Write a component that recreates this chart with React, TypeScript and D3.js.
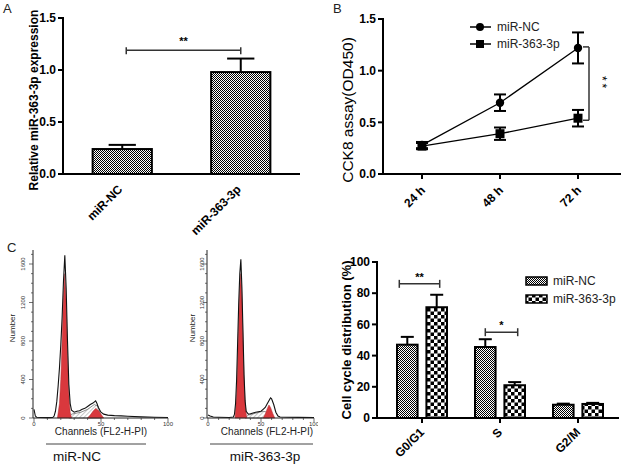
import React from 'react';
import * as d3 from 'd3';

const FONT = 'Liberation Sans, Arial, Helvetica, sans-serif';

// ---------- Panel A data ----------
const aCategories = ['miR-NC', 'miR-363-3p'];
const aValues = [0.24, 0.98];
const aErrors = [0.04, 0.13];
const aTicks = [0, 0.5, 1.0, 1.5];
const aSig = { value: 1.19, label: '**' };

// ---------- Panel B data ----------
const bTimes = ['24 h', '48 h', '72 h'];
const bSeriesNames = ['miR-NC', 'miR-363-3p'];
const bNC = [0.28, 0.69, 1.22];
const bNCErr = [0.03, 0.08, 0.15];
const b363 = [0.27, 0.39, 0.54];
const b363Err = [0.03, 0.06, 0.08];
const bTicks = [0, 0.5, 1.0, 1.5];
const bSig = { top: 1.23, bottom: 0.52, label: '**' };

// ---------- Panel C data (flow histograms: [channel, count]) ----------
const cNames = ['miR-NC', 'miR-363-3p'];
const cYTicks = [0, 400, 800, 1200, 1600];
const cXTicks = [0, 50, 100];
const histNC: [number, number][] = [
  [0, 90], [1, 20], [2, 8], [5, 5], [10, 4], [14, 5], [15, 20], [16, 70], [17, 170], [18, 330],
  [19, 520], [20, 760], [21, 1050], [22, 1420], [23, 1690], [24, 1350], [25, 800], [26, 350],
  [27, 150], [28, 80], [30, 60], [32, 70], [34, 75], [36, 90], [38, 100], [40, 120], [42, 140],
  [44, 155], [46, 178], [47, 150], [48, 110], [50, 60], [52, 40], [55, 30], [60, 25], [65, 22],
  [70, 18], [80, 12], [90, 8], [100, 5],
];
const g1NC: [number, number][] = [
  [17.5, 0], [19, 150], [20, 400], [21, 800], [22, 1250], [23, 1500], [24, 1200], [25, 650],
  [26, 250], [27, 60], [28, 0],
];
const sNC: [number, number][] = [[26, 0], [28, 40], [35, 60], [40, 90], [45, 140], [48, 120], [50, 0]];
const g2NC: [number, number][] = [[40, 0], [42, 30], [44, 70], [46, 100], [48, 80], [50, 40], [52, 0]];

const hist363: [number, number][] = [
  [0, 30], [2, 20], [5, 10], [10, 8], [20, 5], [24, 10], [25, 40], [26, 150], [27, 400],
  [28, 800], [29, 1200], [30, 1500], [31, 1650], [32, 1350], [33, 900], [34, 450], [35, 180],
  [36, 70], [38, 40], [40, 45], [45, 60], [50, 70], [52, 90], [54, 110], [56, 150], [58, 190],
  [59, 210], [60, 200], [62, 140], [64, 60], [66, 20], [68, 10], [75, 8], [85, 6], [100, 5],
];
const g1363: [number, number][] = [
  [25.5, 0], [27, 250], [28, 600], [29, 1000], [30, 1350], [31, 1500], [32, 1250], [33, 800],
  [34, 400], [35, 150], [36.5, 0],
];
const s363: [number, number][] = [[35, 0], [38, 30], [45, 50], [52, 70], [56, 60], [58, 0]];
const g2363: [number, number][] = [[52, 0], [54, 40], [56, 100], [57.5, 135], [59, 110], [61, 50], [63, 0]];

// ---------- Panel D data ----------
const dGroups = ['G0/G1', 'S', 'G2/M'];
const dSeriesNames = ['miR-NC', 'miR-363-3p'];
const dNC = [47, 45.5, 8.5];
const dNCErr = [5, 5, 0.7];
const d363 = [71, 21, 9];
const d363Err = [8, 2, 0.7];
const dTicks = [0, 20, 40, 60, 80, 100];
const dSigs = [
  { group: 'G0/G1', value: 86, label: '**' },
  { group: 'S', value: 55, label: '*' },
];

const fmt1 = d3.format('.1f');

function PanelA() {
  const y = d3.scaleLinear().domain([0, 1.5]).range([174, 18]);
  const x = d3.scaleBand().domain(aCategories).range([63, 300]).paddingInner(0.5).paddingOuter(0.25);
  const bw = x.bandwidth();
  const cx = (c: string) => (x(c) as number) + bw / 2;
  const sy = y(aSig.value);
  const sx0 = cx(aCategories[0]) + 4;
  const sx1 = cx(aCategories[1]);
  return (
    <g>
      <text x={3} y={13} fontSize={13} fill="#222">A</text>
      {aCategories.map((c, i) => {
        const x0 = x(c) as number;
        const top = y(aValues[i] + aErrors[i]);
        const capW = bw * 0.46;
        return (
          <g key={c}>
            <line x1={cx(c)} x2={cx(c)} y1={y(aValues[i])} y2={top} stroke="#000" strokeWidth={2} />
            <line x1={cx(c) - capW / 2} x2={cx(c) + capW / 2} y1={top} y2={top} stroke="#000" strokeWidth={2} />
            <rect x={x0} y={y(aValues[i])} width={bw} height={y(0) - y(aValues[i])} fill="url(#fine)" stroke="#000" strokeWidth={2} />
          </g>
        );
      })}
      <line x1={63} x2={63} y1={y(1.5) - 1} y2={y(0) + 1} stroke="#000" strokeWidth={2} />
      <line x1={62} x2={300} y1={y(0)} y2={y(0)} stroke="#000" strokeWidth={2} />
      {aTicks.map((t) => (
        <g key={t}>
          <line x1={58} x2={63} y1={y(t)} y2={y(t)} stroke="#000" strokeWidth={2} />
          <text x={56} y={y(t)} dy="0.35em" textAnchor="end" fontSize={12} fontWeight="bold">{fmt1(t)}</text>
        </g>
      ))}
      {aCategories.map((c) => (
        <text key={c} transform={`translate(${cx(c) + 1},${y(0) + 16}) rotate(-45)`} textAnchor="end" fontSize={12} fontWeight="bold">{c}</text>
      ))}
      <text transform={`translate(38,${(y(0) + y(1.5)) / 2 + 4}) rotate(-90)`} textAnchor="middle" fontSize={12} fontWeight="bold">Relative miR-363-3p expression</text>
      <g stroke="#333" strokeWidth={1.5}>
        <line x1={sx0} x2={sx1} y1={sy} y2={sy} />
        <line x1={sx0} x2={sx0} y1={sy - 3} y2={sy + 4} />
        <line x1={sx1} x2={sx1} y1={sy - 3} y2={sy + 4} />
      </g>
      <text x={(sx0 + sx1) / 2} y={sy - 5} textAnchor="middle" fontSize={11} fontWeight="bold">{aSig.label}</text>
    </g>
  );
}

function PanelB() {
  const y = d3.scaleLinear().domain([0, 1.5]).range([174, 19]);
  const x = d3.scalePoint().domain(bTimes).range([422, 578]);
  const series = [
    { name: bSeriesNames[0], v: bNC, e: bNCErr, shape: 'circle' },
    { name: bSeriesNames[1], v: b363, e: b363Err, shape: 'square' },
  ];
  const line = d3.line<number>().x((_, i) => x(bTimes[i]) as number).y((d) => y(d));
  const sxl = 589;
  return (
    <g>
      <text x={333} y={13} fontSize={13} fill="#222">B</text>
      {series.map((s) => (
        <g key={s.name}>
          <path d={line(s.v) || ''} fill="none" stroke="#000" strokeWidth={1.3} />
          {s.v.map((v, i) => {
            const px = x(bTimes[i]) as number;
            return (
              <g key={i} stroke="#000" strokeWidth={2}>
                <line x1={px} x2={px} y1={y(v - s.e[i])} y2={y(v + s.e[i])} />
                <line x1={px - 6} x2={px + 6} y1={y(v - s.e[i])} y2={y(v - s.e[i])} />
                <line x1={px - 6} x2={px + 6} y1={y(v + s.e[i])} y2={y(v + s.e[i])} />
                {s.shape === 'circle' ? (
                  <circle cx={px} cy={y(v)} r={4.2} fill="#000" stroke="none" />
                ) : (
                  <rect x={px - 4.5} y={y(v) - 4.5} width={9} height={9} fill="#000" stroke="none" />
                )}
              </g>
            );
          })}
        </g>
      ))}
      <line x1={383} x2={383} y1={y(1.5) - 1} y2={y(0) + 1} stroke="#000" strokeWidth={2} />
      <line x1={382} x2={621} y1={y(0)} y2={y(0)} stroke="#000" strokeWidth={2} />
      {bTicks.map((t) => (
        <g key={t}>
          <line x1={378} x2={383} y1={y(t)} y2={y(t)} stroke="#000" strokeWidth={2} />
          <text x={376} y={y(t)} dy="0.35em" textAnchor="end" fontSize={12} fontWeight="bold">{fmt1(t)}</text>
        </g>
      ))}
      {bTimes.map((t) => (
        <g key={t}>
          <line x1={x(t)} x2={x(t)} y1={y(0)} y2={y(0) + 5} stroke="#000" strokeWidth={2} />
          <text transform={`translate(${(x(t) as number) + 4},${y(0) + 17}) rotate(-45)`} textAnchor="end" fontSize={12} fontWeight="bold">{t}</text>
        </g>
      ))}
      <text transform={`translate(353,110) rotate(-90)`} textAnchor="middle" fontSize={15.5}>CCK8 assay(OD450)</text>
      {series.map((s, i) => {
        const ly = 27 + i * 17;
        return (
          <g key={s.name}>
            <line x1={470} x2={491} y1={ly} y2={ly} stroke="#000" strokeWidth={1.5} />
            {s.shape === 'circle' ? (
              <circle cx={480} cy={ly} r={4} fill="#000" />
            ) : (
              <rect x={476} y={ly - 4} width={8} height={8} fill="#000" />
            )}
            <text x={497} y={ly} dy="0.35em" fontSize={12} fill="#222">{s.name}</text>
          </g>
        );
      })}
      <g stroke="#333" strokeWidth={1.5}>
        <line x1={sxl} x2={sxl} y1={y(bSig.top)} y2={y(bSig.bottom)} />
        <line x1={sxl - 6} x2={sxl} y1={y(bSig.top)} y2={y(bSig.top)} />
        <line x1={sxl - 6} x2={sxl} y1={y(bSig.bottom)} y2={y(bSig.bottom)} />
      </g>
      <text transform={`translate(598,${(y(bSig.top) + y(bSig.bottom)) / 2}) rotate(90)`} textAnchor="middle" fontSize={12} letterSpacing={3}>{bSig.label}</text>
    </g>
  );
}

type HistProps = {
  axisX: number;
  x0px: number;
  pxPerCh: number;
  clipRight: number;
  outline: [number, number][];
  g1: [number, number][];
  s: [number, number][];
  g2: [number, number][];
  labelGap: number;
  numberX: number;
  name: string;
  chX: number;
  nameX: number;
  lineX0: number;
  lineX1: number;
  id: string;
};

function Histogram(p: HistProps) {
  const y = d3.scaleLinear().domain([0, 1600]).range([418, 264]);
  const x = d3.scaleLinear().domain([0, 100]).range([p.x0px, p.x0px + 100 * p.pxPerCh]);
  const area = d3.area<[number, number]>().x((d) => x(d[0])).y0(y(0)).y1((d) => y(d[1]));
  const line = d3.line<[number, number]>().x((d) => x(d[0])).y((d) => y(d[1]));
  const minorY = d3.range(0, 1800, 100);
  const minorX = d3.range(0, 101, 10).filter((v) => x(v) <= p.clipRight);
  return (
    <g>
      <clipPath id={p.id}>
        <rect x={p.axisX - 30} y={240} width={p.clipRight - p.axisX + 30} height={200} />
      </clipPath>
      <g clipPath={`url(#${p.id})`}>
        <path d={area(p.s) || ''} fill="url(#hatch)" stroke="#444" strokeWidth={0.6} />
        <path d={area(p.g1) || ''} fill="#d9383d" stroke="#b02a2e" strokeWidth={0.5} />
        <path d={area(p.g2) || ''} fill="#d9383d" stroke="#b02a2e" strokeWidth={0.5} />
        <path d={line(p.outline) || ''} fill="none" stroke="#111" strokeWidth={1.1} />
        <line x1={p.axisX} x2={p.axisX} y1={250} y2={418} stroke="#222" strokeWidth={1} />
        <line x1={p.axisX} x2={Math.min(x(100), p.clipRight)} y1={418} y2={418} stroke="#222" strokeWidth={1} />
        {minorY.map((t) => (
          <line key={t} x1={p.axisX - (t % 400 === 0 ? 4 : 2)} x2={p.axisX} y1={y(t)} y2={y(t)} stroke="#333" strokeWidth={0.7} />
        ))}
        {minorX.map((t) => (
          <line key={t} x1={x(t)} x2={x(t)} y1={418} y2={418 + (t % 50 === 0 ? 4 : 2)} stroke="#333" strokeWidth={0.7} />
        ))}
        {cXTicks.map((t) => (
          <text key={t} x={x(t)} y={426} textAnchor="middle" fontSize={6} fill="#333">{t}</text>
        ))}
      </g>
      {cYTicks.map((t) => (
        <text key={t} transform={`translate(${p.axisX - p.labelGap},${y(t)}) rotate(-90)`} textAnchor="middle" fontSize={6} fill="#333">{t}</text>
      ))}
      <text transform={`translate(${p.numberX},328) rotate(-90)`} textAnchor="middle" fontSize={8} fill="#222">Number</text>
      <text x={p.chX} y={435} textAnchor="middle" fontSize={10} fill="#222">Channels (FL2-H-PI)</text>
      <line x1={p.lineX0} x2={p.lineX1} y1={444} y2={444} stroke="#444" strokeWidth={1} />
      <text x={p.nameX} y={461} textAnchor="middle" fontSize={13.5} fill="#111">{p.name}</text>
    </g>
  );
}

function PanelC() {
  return (
    <g>
      <text x={7} y={252} fontSize={13} fill="#222">C</text>
      <Histogram id="clipL" axisX={33} x0px={34} pxPerCh={1.34} clipRight={175} outline={histNC} g1={g1NC} s={sNC} g2={g2NC}
        labelGap={8} numberX={15} name={cNames[0]} chX={101} nameX={77} lineX0={46} lineX1={146} />
      <Histogram id="clipR" axisX={207} x0px={208} pxPerCh={1.06} clipRight={318} outline={hist363} g1={g1363} s={s363} g2={g2363}
        labelGap={3} numberX={195} name={cNames[1]} chX={267} nameX={265} lineX0={210} lineX1={313} />
    </g>
  );
}

function PanelD() {
  const y = d3.scaleLinear().domain([0, 100]).range([418, 262]);
  const xg = d3.scaleBand().domain(dGroups).range([383, 617]);
  const xs = d3.scaleBand().domain(dSeriesNames).range([-25, 25]).paddingInner(0.3);
  const bw = xs.bandwidth();
  const series = [
    { name: dSeriesNames[0], v: dNC, e: dNCErr, fill: 'url(#fine)' },
    { name: dSeriesNames[1], v: d363, e: d363Err, fill: 'url(#checker)' },
  ];
  const gc = (g: string) => (xg(g) as number) + xg.bandwidth() / 2;
  const bc = (g: string, s: string) => gc(g) + (xs(s) as number) + bw / 2;
  return (
    <g>
      {series.map((s) =>
        dGroups.map((g, i) => {
          const x0 = gc(g) + (xs(s.name) as number);
          const cx = x0 + bw / 2;
          const top = y(s.v[i] + s.e[i]);
          return (
            <g key={s.name + g}>
              <line x1={cx} x2={cx} y1={y(s.v[i])} y2={top} stroke="#000" strokeWidth={2} />
              <line x1={cx - 6.5} x2={cx + 6.5} y1={top} y2={top} stroke="#000" strokeWidth={2} />
              <rect x={x0} y={y(s.v[i])} width={bw} height={y(0) - y(s.v[i])} fill={s.fill} stroke="#000" strokeWidth={2} />
            </g>
          );
        })
      )}
      <line x1={377} x2={377} y1={y(100) - 1} y2={y(0) + 1} stroke="#000" strokeWidth={2} />
      <line x1={376} x2={619} y1={y(0)} y2={y(0)} stroke="#000" strokeWidth={2} />
      {dTicks.map((t) => (
        <g key={t}>
          <line x1={372} x2={377} y1={y(t)} y2={y(t)} stroke="#000" strokeWidth={2} />
          <text x={370} y={y(t)} dy="0.35em" textAnchor="end" fontSize={12} fontWeight="bold">{t}</text>
        </g>
      ))}
      {dGroups.map((g) => (
        <g key={g}>
          <line x1={gc(g)} x2={gc(g)} y1={y(0)} y2={y(0) + 5} stroke="#000" strokeWidth={2} />
          <text transform={`translate(${gc(g) + 3},${y(0) + 15}) rotate(-45)`} textAnchor="end" fontSize={12} fontWeight="bold">{g}</text>
        </g>
      ))}
      <text transform={`translate(351,${(y(0) + y(100)) / 2}) rotate(-90)`} textAnchor="middle" fontSize={13} fontWeight="bold">Cell cycle distribution (%)</text>
      {dSigs.map((sg) => {
        const x0 = bc(sg.group, dSeriesNames[0]) - (sg.label === '**' ? 8 : 0);
        const x1 = bc(sg.group, dSeriesNames[1]) + 3;
        const sy = y(sg.value);
        return (
          <g key={sg.group}>
            <g stroke="#333" strokeWidth={1.5}>
              <line x1={x0} x2={x1} y1={sy} y2={sy} />
              <line x1={x0} x2={x0} y1={sy - 4} y2={sy + 4} />
              <line x1={x1} x2={x1} y1={sy - 4} y2={sy + 4} />
            </g>
            <text x={(x0 + x1) / 2} y={sy - 3} textAnchor="middle" fontSize={11} fontWeight="bold">{sg.label}</text>
          </g>
        );
      })}
      {series.map((s, i) => {
        const ly = 281 + i * 18;
        return (
          <g key={s.name}>
            <rect x={526} y={ly - 4} width={21} height={8} fill={s.fill} stroke="#000" strokeWidth={1.5} />
            <text x={553} y={ly} dy="0.35em" fontSize={12} fill="#222">{s.name}</text>
          </g>
        );
      })}
    </g>
  );
}

export default function App() {
  return (
    <svg width={624} height={467} viewBox="0 0 624 467" style={{ position: 'absolute', left: 0, top: 0, background: '#fff' }} fontFamily={FONT}>
      <defs>
        <pattern id="fine" width={2} height={2} patternUnits="userSpaceOnUse">
          <rect width={2} height={2} fill="#fff" />
          <rect width={1} height={1} fill="#000" />
          <rect x={1} y={1} width={1} height={1} fill="#000" />
        </pattern>
        <pattern id="checker" width={7} height={7} patternUnits="userSpaceOnUse">
          <rect width={7} height={7} fill="#fff" />
          <rect width={3.5} height={3.5} fill="#000" />
          <rect x={3.5} y={3.5} width={3.5} height={3.5} fill="#000" />
        </pattern>
        <pattern id="hatch" width={3} height={3} patternUnits="userSpaceOnUse" patternTransform="rotate(45)">
          <rect width={3} height={3} fill="#fff" />
          <line x1={0} x2={0} y1={0} y2={3} stroke="#777" strokeWidth={0.8} />
        </pattern>
      </defs>
      <rect width={624} height={467} fill="#fff" />
      <PanelA />
      <PanelB />
      <PanelC />
      <PanelD />
    </svg>
  );
}
